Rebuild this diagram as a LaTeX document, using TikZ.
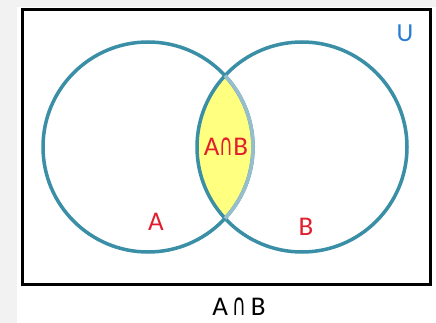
\documentclass[tikz,border=0pt]{standalone}
\usepackage{fontspec}
\usepackage{graphicx}
\setmainfont{Carlito}
\newfontfamily\capfont{DejaVu Sans}
\definecolor{ringc}{RGB}{58,142,166}
\definecolor{ringlight}{RGB}{150,190,205}
\definecolor{lens}{RGB}{255,255,128}
\definecolor{lblred}{RGB}{225,30,45}
\definecolor{lblblue}{RGB}{40,125,210}
\definecolor{bggray}{RGB}{242,242,242}
\newcommand{\tallcap}[1]{{\capfont\fontsize{#1}{#1}\selectfont\scalebox{0.9}[1.45]{∩}}}
\tikzset{
  ring/.style={circle, draw=ringc, line width=3.5pt, minimum size=210pt, inner sep=0pt},
  redlbl/.style={text=lblred, font=\fontsize{27}{30}\selectfont, inner sep=0pt},
}
\begin{document}
\begin{tikzpicture}[x=1pt,y=-1pt]
\useasboundingbox (0,0) rectangle (436,323);
\fill[white] (0,0) rectangle (436,323);
\fill[bggray] (0,0) rectangle (17,323);
\fill[bggray] (17,0) rectangle (436,7);
\node[draw=black, line width=3pt, minimum width=408pt, minimum height=274pt, inner sep=0pt] (U) at (226,147) {};
\begin{scope}
  \clip (148,147) circle (105pt);
  \fill[lens] (302,147) circle (105pt);
\end{scope}
\node[ring] (A) at (148,147) {};
\node[ring] (B) at (302,147) {};
\begin{scope}
  \clip (302,147) circle (105pt);
  \draw[ringlight, line width=3.5pt] (148,147) circle (105pt);
\end{scope}
\node[text=lblblue, font=\fontsize{26}{28}\selectfont, inner sep=0pt] (u) at (405,33) {U};
\node[redlbl] (a) at (156,222) {A};
\node[redlbl] (b) at (306,227) {B};
\node[redlbl] (ab) at (226,147) {A\tallcap{21}B};
\node[text=black, font=\fontsize{27}{30}\selectfont, inner sep=0pt, anchor=base] (cap) at (239,315) {A\,\tallcap{21}\,B};
\end{tikzpicture}
\end{document}
